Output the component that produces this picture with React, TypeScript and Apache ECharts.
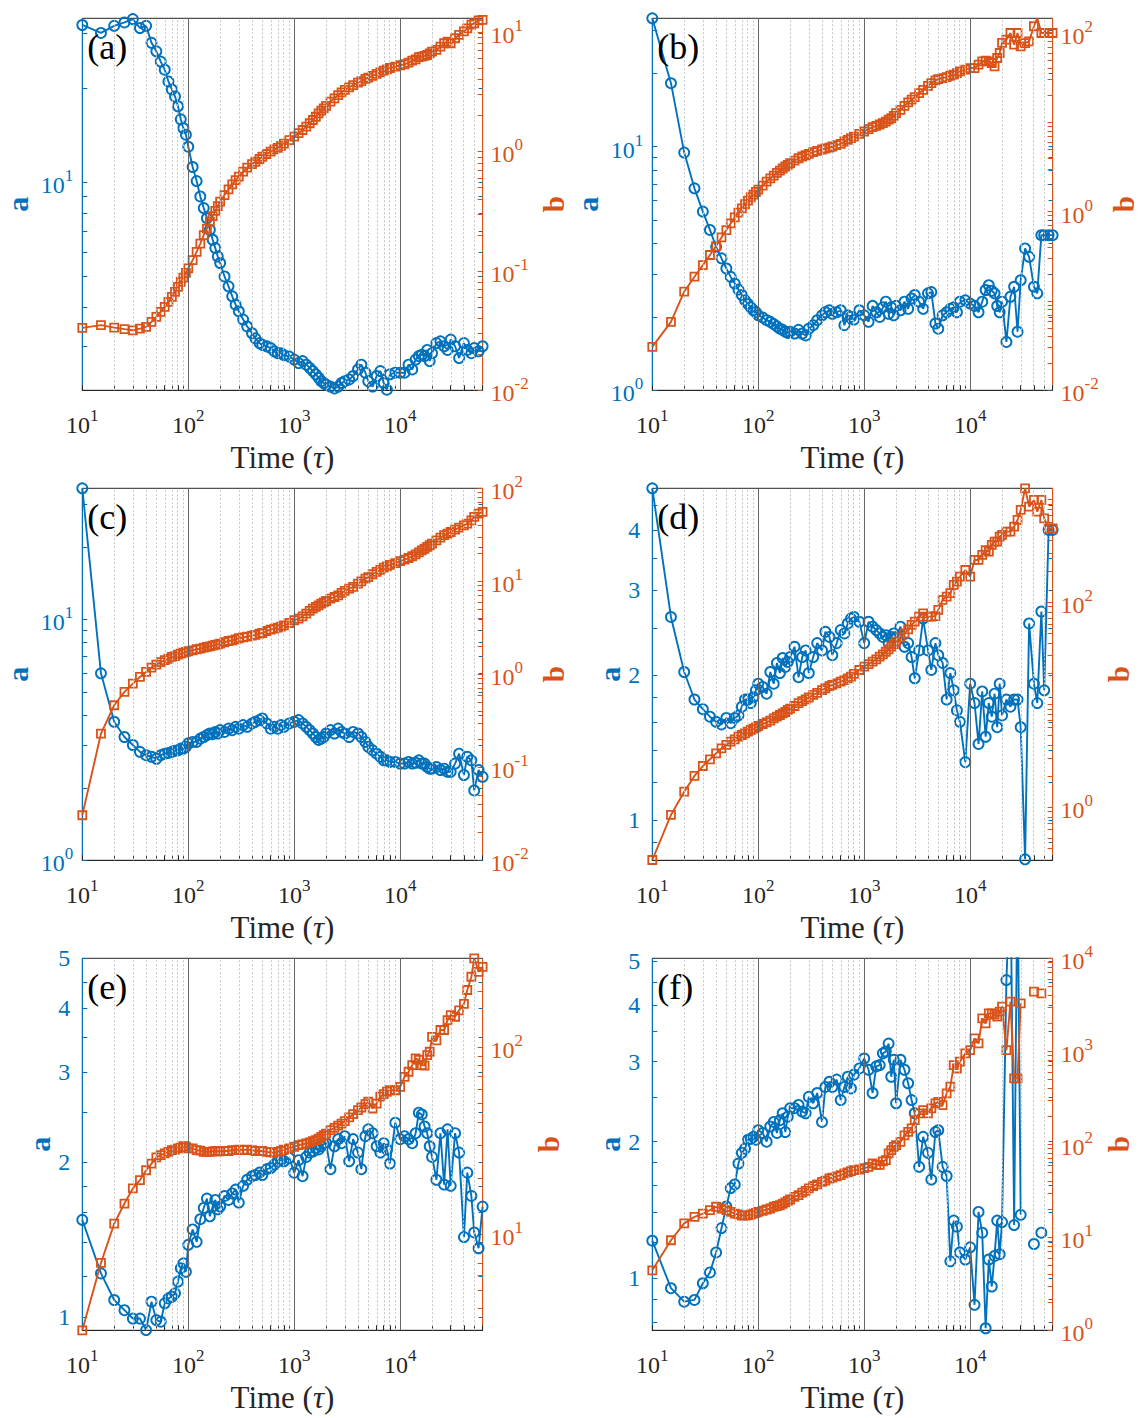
import React, { useEffect, useRef } from 'react';
import * as echarts from 'echarts';

// Time samples (tau), shared by all panels
const T = [
  10, 15, 20, 25, 30, 35, 40, 45, 50, 55, 60, 65, 70, 75, 80, 85, 90, 95, 100,
  110, 120, 130, 140, 150, 160, 170, 180, 190, 200, 220, 240, 260, 280, 300, 330, 360, 400, 430, 470, 500, 550, 600, 650, 700, 750, 800, 900, 1000,
  1100, 1200, 1300, 1400, 1500, 1600, 1700, 1800, 1900, 2000, 2200, 2400, 2600, 2800, 3000, 3300, 3600, 4000, 4300, 4700, 5000, 5500, 6000, 6500, 7000, 7500, 8000, 9000, 10000,
  11000, 12000, 13000, 14000, 15000, 16000, 17000, 18000, 19000, 20000, 22000, 24000, 26000, 28000, 30000, 33000, 36000, 40000, 43000, 47000, 50000, 55000, 60000,
];

// Panel (a)
const A_A = [
  31.8, 30.0, 31.6, 32.4, 33.2, 31.1, 31.6, 27.9, 26.2, 24.3, 22.9, 21.0, 19.8, 18.8, 17.5, 15.9, 14.9, 14.2, 13.0,
  11.2, 10.1, 9.02, 8.28, 7.69, 7.06, 6.56, 6.17, 5.80, 5.53, 5.01, 4.66, 4.33, 4.07, 3.88, 3.65, 3.47, 3.30, 3.18, 3.07, 3.03, 3.00, 2.96, 2.89, 2.85, 2.85, 2.81, 2.78, 2.72,
  2.65, 2.69, 2.62, 2.56, 2.50, 2.44, 2.38, 2.32, 2.29, 2.26, 2.23, 2.20, 2.23, 2.29, 2.32, 2.35, 2.41, 2.53, 2.62, 2.47, 2.32, 2.23, 2.41, 2.50, 2.29, 2.18, 2.44, 2.47, 2.47,
  2.47, 2.62, 2.53, 2.72, 2.79, 2.82, 2.79, 2.92, 2.69, 2.85, 3.07, 3.11, 3.00, 2.92, 3.15, 3.00, 2.75, 3.07, 2.92, 2.85, 2.96, 2.89, 3.00,
];
const B_A = [
  0.0333, 0.0351, 0.0335, 0.0325, 0.0318, 0.0328, 0.0340, 0.0374, 0.0412, 0.0453, 0.0499, 0.0550, 0.0605, 0.0667, 0.0734, 0.0809, 0.0879, 0.0962, 0.105,
  0.123, 0.144, 0.169, 0.199, 0.226, 0.258, 0.287, 0.318, 0.348, 0.379, 0.431, 0.481, 0.529, 0.575, 0.614, 0.676, 0.730, 0.783, 0.819, 0.863, 0.902, 0.951, 0.994, 1.04, 1.07, 1.11, 1.16, 1.24, 1.33,
  1.42, 1.51, 1.61, 1.72, 1.83, 1.95, 2.08, 2.19, 2.29, 2.40, 2.61, 2.78, 2.96, 3.12, 3.27, 3.44, 3.59, 3.76, 3.88, 4.04, 4.14, 4.28, 4.45, 4.59, 4.74, 4.86, 4.99, 5.12, 5.26,
  5.36, 5.53, 5.75, 5.90, 6.14, 6.22, 6.30, 6.41, 6.62, 6.84, 7.06, 7.53, 8.04, 8.30, 8.04, 8.85, 9.44, 10.1, 10.7, 11.5, 11.8, 12.5, 12.6,
];

// Panel (b)
const A_B = [
  33.6, 18.2, 9.45, 6.74, 5.41, 4.55, 3.88, 3.48, 3.16, 2.92, 2.74, 2.59, 2.46, 2.34, 2.26, 2.19, 2.13, 2.09, 2.03,
  1.99, 1.94, 1.91, 1.87, 1.83, 1.79, 1.77, 1.74, 1.72, 1.74, 1.71, 1.77, 1.71, 1.68, 1.79, 1.85, 1.94, 2.03, 2.09, 2.13, 2.06, 2.09, 2.13, 1.85, 2.03, 2.00, 1.95, 2.13, 2.03,
  1.91, 2.22, 2.09, 2.00, 2.19, 2.31, 2.06, 2.19, 2.03, 2.22, 2.13, 2.31, 2.16, 2.38, 2.46, 2.31, 2.16, 2.50, 2.53, 1.88, 1.79, 2.03, 2.09, 2.16, 2.19, 2.09, 2.31, 2.34, 2.27,
  2.22, 2.09, 2.31, 2.58, 2.70, 2.56, 2.50, 2.22, 2.09, 2.31, 1.58, 2.42, 2.66, 1.74, 2.83, 3.82, 3.53, 2.66, 2.50, 4.33, 4.33, 4.33, 4.33,
];
const B_B = [
  0.0306, 0.0583, 0.127, 0.187, 0.252, 0.327, 0.412, 0.515, 0.622, 0.740, 0.863, 0.975, 1.09, 1.21, 1.33, 1.45, 1.55, 1.66, 1.76,
  1.96, 2.17, 2.36, 2.53, 2.72, 2.88, 3.04, 3.20, 3.34, 3.48, 3.73, 3.96, 4.14, 4.28, 4.43, 4.63, 4.79, 4.96, 5.09, 5.22, 5.36, 5.55, 5.74, 6.10, 6.36, 6.64, 6.93, 7.43, 7.89,
  8.38, 8.82, 9.13, 9.45, 9.79, 10.2, 10.7, 11.1, 11.8, 12.7, 13.8, 15.3, 16.7, 17.9, 19.1, 21.2, 23.1, 25.6, 27.5, 29.4, 30.5, 31.3, 32.1, 33.2, 34.1, 35.6, 37.2, 38.8, 40.5,
  40.5, 44.2, 48.1, 48.9, 48.1, 46.1, 42.3, 52.5, 59.7, 77.3, 84.2, 100, 74.0, 100, 70.8, 77.0, 80.7, 119, 147, 100, 100, 100, 100,
];

// Panel (c)
const A_C = [
  35.0, 5.97, 3.76, 3.25, 3.01, 2.82, 2.73, 2.69, 2.64, 2.73, 2.77, 2.79, 2.82, 2.85, 2.86, 2.91, 2.91, 2.96, 3.06,
  3.10, 3.10, 3.20, 3.25, 3.31, 3.36, 3.34, 3.41, 3.36, 3.47, 3.41, 3.52, 3.47, 3.58, 3.52, 3.64, 3.58, 3.70, 3.76, 3.82, 3.88, 3.70, 3.52, 3.58, 3.52, 3.64, 3.58, 3.70, 3.76,
  3.82, 3.70, 3.58, 3.47, 3.36, 3.25, 3.16, 3.20, 3.25, 3.36, 3.47, 3.36, 3.52, 3.41, 3.36, 3.25, 3.41, 3.36, 3.25, 3.10, 2.96, 2.86, 2.77, 2.69, 2.60, 2.60, 2.56, 2.56, 2.52,
  2.52, 2.56, 2.52, 2.54, 2.60, 2.52, 2.52, 2.44, 2.40, 2.40, 2.44, 2.37, 2.40, 2.33, 2.33, 2.52, 2.77, 2.26, 2.69, 2.60, 1.95, 2.37, 2.22,
];
const B_C = [
  0.0305, 0.230, 0.465, 0.646, 0.794, 0.936, 1.06, 1.18, 1.27, 1.35, 1.42, 1.47, 1.54, 1.57, 1.63, 1.67, 1.71, 1.74, 1.77,
  1.81, 1.86, 1.89, 1.94, 1.97, 2.00, 2.03, 2.07, 2.10, 2.14, 2.21, 2.28, 2.32, 2.38, 2.44, 2.49, 2.54, 2.61, 2.65, 2.74, 2.78, 2.92, 3.02, 3.10, 3.18, 3.26, 3.36, 3.56, 3.81,
  3.97, 4.20, 4.49, 4.80, 5.08, 5.30, 5.52, 5.75, 5.94, 6.14, 6.51, 6.78, 7.07, 7.49, 7.87, 8.34, 8.69, 9.44, 10.0, 10.7, 11.1, 11.9, 12.6, 13.3, 14.0, 14.5, 15.0, 15.7, 16.5,
  17.1, 17.8, 18.6, 19.5, 20.5, 21.5, 22.4, 23.4, 24.4, 25.4, 27.6, 29.5, 31.3, 32.6, 33.9, 35.9, 37.8, 40.0, 41.7, 45.3, 49.2, 53.4, 55.7,
];

// Panel (d)
const A_D = [
  4.88, 2.64, 2.03, 1.78, 1.70, 1.64, 1.60, 1.58, 1.63, 1.59, 1.63, 1.65, 1.72, 1.78, 1.78, 1.75, 1.80, 1.86, 1.92,
  1.89, 1.83, 2.03, 1.92, 2.12, 2.02, 2.17, 2.08, 2.13, 2.18, 2.29, 1.98, 2.18, 2.25, 2.02, 2.18, 2.33, 2.25, 2.46, 2.40, 2.20, 2.33, 2.48, 2.44, 2.56, 2.62, 2.64, 2.58, 2.33,
  2.58, 2.52, 2.48, 2.44, 2.40, 2.42, 2.33, 2.40, 2.44, 2.40, 2.52, 2.29, 2.33, 2.18, 1.97, 2.25, 2.62, 2.25, 2.05, 2.33, 2.20, 2.12, 1.78, 2.02, 1.86, 1.69, 1.60, 1.32, 1.92,
  1.75, 1.44, 1.85, 1.49, 1.75, 1.64, 1.83, 1.56, 1.92, 1.65, 1.78, 1.72, 1.78, 1.78, 1.56, 0.83, 2.56, 1.92, 1.75, 2.71, 1.86, 4.00, 4.00,
];
const B_D = [
  0.304, 0.836, 1.41, 2.01, 2.51, 2.92, 3.34, 3.73, 4.03, 4.34, 4.57, 4.86, 5.04, 5.23, 5.43, 5.64, 5.81, 5.99, 6.17,
  6.45, 6.70, 6.96, 7.33, 7.61, 7.90, 8.20, 8.45, 8.84, 9.11, 9.67, 10.3, 10.8, 11.2, 11.7, 12.4, 13.0, 13.8, 14.4, 15.1, 15.5, 16.1, 16.7, 17.3, 18.0, 18.7, 19.9, 21.7, 23.4,
  24.8, 26.2, 27.6, 29.3, 30.8, 32.7, 34.5, 36.6, 38.9, 41.0, 45.2, 49.4, 54.1, 59.7, 64.3, 71.9, 77.5, 71.9, 71.9, 72.9, 83.6, 105, 113, 122, 147, 158, 177, 205, 177,
  257, 257, 288, 321, 310, 360, 388, 388, 434, 451, 486, 486, 543, 631, 790, 1285, 851, 989, 760, 989, 655, 523, 523,
];

// Panel (e)
const A_E = [
  1.545, 1.215, 1.078, 1.030, 0.992, 0.992, 0.942, 1.070, 0.985, 0.978, 1.062, 1.086, 1.094, 1.111, 1.171, 1.243, 1.271, 1.224, 1.381,
  1.48, 1.40, 1.55, 1.63, 1.70, 1.57, 1.64, 1.69, 1.62, 1.64, 1.72, 1.69, 1.74, 1.77, 1.67, 1.80, 1.85, 1.88, 1.89, 1.91, 1.89, 1.94, 1.95, 1.98, 2.01, 2.02, 2.01, 2.04, 1.91,
  2.02, 1.88, 2.05, 2.09, 2.10, 2.13, 2.12, 2.15, 2.17, 2.18, 1.94, 2.15, 2.22, 2.18, 2.25, 2.01, 2.22, 2.09, 1.94, 2.25, 2.32, 2.28, 2.15, 2.09, 2.18, 2.12, 1.99, 2.39, 2.22,
  2.25, 2.22, 2.18, 2.28, 2.50, 2.48, 2.35, 2.28, 2.15, 2.05, 1.85, 2.28, 1.81, 2.32, 1.80, 2.28, 2.09, 1.43, 1.91, 1.72, 1.46, 1.36, 1.64,
];
const B_E = [
  3.06, 7.02, 11.4, 14.6, 17.6, 19.5, 22.0, 23.9, 25.8, 26.5, 27.1, 27.6, 28.2, 28.4, 28.8, 29.1, 29.6, 29.4, 28.8,
  28.8, 28.2, 28.0, 27.6, 27.6, 27.6, 27.8, 27.9, 27.8, 27.8, 27.9, 27.9, 28.2, 28.2, 28.4, 28.2, 28.4, 28.2, 27.9, 27.9, 27.9, 27.6, 27.4, 27.3, 27.6, 27.9, 28.4, 28.8, 29.4,
  30.0, 30.3, 30.6, 31.0, 31.5, 31.9, 32.5, 33.2, 33.9, 34.6, 36.1, 37.1, 38.1, 39.1, 40.3, 42.2, 43.9, 46.2, 47.7, 49.7, 51.2, 47.1, 50.0, 54.5, 56.3, 57.9, 59.0, 59.0, 61.5,
  69.6, 74.1, 80.4, 87.3, 85.8, 80.4, 80.0, 90.9, 94.8, 114, 109, 124, 124, 140, 149, 146, 158, 171, 203, 239, 300, 254, 270,
];

// Panel (f)
const A_F = [
  1.21, 0.951, 0.888, 0.896, 0.975, 1.03, 1.14, 1.29, 1.44, 1.58, 1.61, 1.79, 1.89, 1.93, 2.02, 2.03, 2.05, 2.02, 2.12,
  2.09, 2.00, 2.16, 2.21, 2.09, 2.23, 2.31, 2.10, 2.27, 2.37, 2.37, 2.41, 2.33, 2.31, 2.51, 2.43, 2.56, 2.21, 2.64, 2.71, 2.64, 2.74, 2.47, 2.64, 2.78, 2.62, 2.81, 2.90, 3.05,
  2.88, 2.56, 2.93, 2.95, 3.13, 3.16, 3.29, 2.78, 3.03, 2.43, 3.03, 2.88, 2.69, 2.47, 2.31, 1.76, 2.05, 1.89, 1.65, 2.10, 2.12, 1.76, 1.68, 1.09, 1.34, 1.30, 1.14, 1.10, 1.17,
  0.874, 1.40, 1.26, 0.776, 1.10, 0.959, 1.12, 1.34, 1.13, 1.33, 4.54, 8.0, 1.31, 8.0, 1.38, null, null, 1.19, null, 1.26, null, null, null,
];
const B_F = [
  4.42, 9.30, 14.1, 16.6, 18.0, 19.6, 21.3, 20.4, 19.6, 18.8, 18.0, 17.6, 17.1, 17.1, 17.2, 17.5, 18.0, 18.3, 18.8,
  19.3, 19.9, 20.4, 21.3, 21.7, 22.1, 22.9, 23.7, 24.6, 25.5, 27.2, 28.4, 30.3, 31.6, 33.5, 35.6, 37.0, 39.5, 40.7, 42.9, 43.9, 45.2, 46.6, 48.6, 49.8, 51.4, 52.8, 53.6, 55.4,
  57.3, 62.2, 60.2, 60.2, 65.4, 67.6, 79.7, 86.6, 94.0, 98.1, 106, 125, 136, 148, 182, 215, 233, 215, 243, 275, 286, 264, 352, 416, 711, 653, 773, 950, 1030,
  1377, 1217, 2261, 1995, 2560, 2560, 2475, 2355, 2667, 3019, 1030, 3420, 511, 511, 3282, null, null, 4378, null, 4200, null, null, null,
];

// Tick labels
const PANEL_TAGS = ['(a)', '(b)', '(c)', '(d)', '(e)', '(f)'];
const X_LABELS = [10, 100, 1000, 10000];
const LEFT_LABELS = [[10], [1, 10], [1, 10], [1, 2, 3, 4], [1, 2, 3, 4, 5], [1, 2, 3, 4, 5]];
const RIGHT_LABELS = [
  [0.01, 0.1, 1, 10],
  [0.01, 1, 100],
  [0.01, 0.1, 1, 10, 100],
  [1, 100],
  [10, 100],
  [1, 10, 100, 1000, 10000],
];
const LEFT_POW = [true, true, true, false, false, false];

// Axis ranges
const X_RANGE = [10, 60000];
const LEFT_RANGE = [[2.17, 33.4], [1, 33.6], [1, 35], [0.826, 4.88], [0.941, 5], [0.768, 5.07]];
const RIGHT_RANGE = [[0.01, 13.0], [0.01, 146], [0.01, 100], [0.302, 1285], [3.06, 300], [1, 10000]];

const A_SERIES = [A_A, A_B, A_C, A_D, A_E, A_F];
const B_SERIES = [B_A, B_B, B_C, B_D, B_E, B_F];

const BLUE = '#0072BD';
const ORANGE = '#D95319';
const INK = '#262626';
const FONT = '"Liberation Serif", "Times New Roman", Times, serif';

const lg = (v: number) => Math.log10(v);

function logTicks(min: number, max: number): number[] {
  const out: number[] = [];
  for (let e = Math.floor(lg(min)) - 1; e <= Math.ceil(lg(max)); e++) {
    for (let k = 1; k <= 9; k++) {
      const v = k * Math.pow(10, e);
      if (v >= min * 0.9999 && v <= max * 1.0001) out.push(lg(v));
    }
  }
  return out;
}

function linLogTicks(min: number, max: number): number[] {
  const cands = [0.7, 0.8, 0.9, 1, 1.2, 1.4, 1.6, 1.8, 2, 2.5, 3, 3.5, 4, 4.5, 5];
  return cands.filter((v) => v >= min * 0.9999 && v <= max * 1.0001).map(lg);
}

const powRich = (color: string) => ({
  b: { fontFamily: FONT, fontSize: 24, lineHeight: 30, color, verticalAlign: 'bottom' },
  s: { fontFamily: FONT, fontSize: 17, lineHeight: 14, color, verticalAlign: 'top' },
});
const powFmt = (v: number) => `{b|10}{s|${Math.round(v)}}`;

const COL_LEFT = [82.3, 652.3];
const ROW_TOP = [18.3, 488.3, 958.3];
const GW = 400.3;
const GH = 372;

function buildOption() {
  const grid: any[] = [];
  const xAxis: any[] = [];
  const yAxis: any[] = [];
  const series: any[] = [];
  const graphic: any[] = [];

  const xMin = lg(X_RANGE[0]);
  const xMax = lg(X_RANGE[1]);
  const xTicks = logTicks(X_RANGE[0], X_RANGE[1]);
  const gridVals: { v: number; major: boolean }[] = [];
  for (let e = 1; e <= 4; e++) {
    for (let k = 1; k <= 9; k++) {
      const t = k * Math.pow(10, e);
      if (t > X_RANGE[0] && t < X_RANGE[1]) gridVals.push({ v: lg(t), major: k === 1 });
    }
  }

  for (let i = 0; i < 6; i++) {
    const left = COL_LEFT[i % 2];
    const top = ROW_TOP[Math.floor(i / 2)];
    const [aMin, aMax] = LEFT_RANGE[i];
    const [bMin, bMax] = RIGHT_RANGE[i];
    const pow = LEFT_POW[i];

    grid.push({
      left, top, width: GW, height: GH,
      show: true, borderColor: INK, borderWidth: 1, backgroundColor: 'rgba(0,0,0,0)',
      containLabel: false, outerBoundsMode: 'none',
    });

    xAxis.push({
      type: 'value', gridIndex: i, position: 'bottom', min: xMin, max: xMax,
      axisLine: { show: true, onZero: false, lineStyle: { color: INK, width: 1 } },
      axisTick: { show: true, inside: true, length: 5, customValues: xTicks, lineStyle: { color: INK, width: 1 } },
      axisLabel: {
        show: true, customValues: X_LABELS.map(lg), formatter: powFmt, rich: powRich(INK),
        margin: 17, color: INK, fontFamily: FONT, fontSize: 24,
      },
      splitLine: { show: false },
      name: 'Time ({i|τ})', nameLocation: 'middle', nameGap: 52,
      nameTextStyle: {
        fontFamily: FONT, fontSize: 31, color: INK,
        rich: { i: { fontFamily: FONT, fontSize: 31, fontStyle: 'italic', color: INK } },
      },
    });

    const leftTicks = pow ? logTicks(aMin, aMax) : linLogTicks(aMin, aMax);
    yAxis.push({
      type: 'value', gridIndex: i, position: 'left', min: lg(aMin), max: lg(aMax),
      axisLine: { show: true, onZero: false, lineStyle: { color: BLUE, width: 1 } },
      axisTick: { show: true, inside: true, length: 5, customValues: leftTicks, lineStyle: { color: BLUE, width: 1 } },
      axisLabel: pow
        ? { show: true, customValues: LEFT_LABELS[i].map(lg), formatter: powFmt, rich: powRich(BLUE), margin: 9, color: BLUE, fontFamily: FONT, fontSize: 24 }
        : { show: true, customValues: LEFT_LABELS[i].map(lg), formatter: (v: number) => String(Math.round(Math.pow(10, v))), margin: 12, color: BLUE, fontFamily: FONT, fontSize: 24 },
      splitLine: { show: false },
      name: 'a', nameLocation: 'middle', nameRotate: 90, nameGap: pow ? 50 : 27,
      nameTextStyle: { fontFamily: FONT, fontSize: 30, fontWeight: 'bold', color: BLUE, lineHeight: 30 },
    });
    yAxis.push({
      type: 'value', gridIndex: i, position: 'right', offset: 0, min: lg(bMin), max: lg(bMax),
      axisLine: { show: true, onZero: false, lineStyle: { color: ORANGE, width: 1 } },
      axisTick: { show: true, inside: true, length: 5, customValues: logTicks(bMin, bMax), lineStyle: { color: ORANGE, width: 1 } },
      axisLabel: { show: true, customValues: RIGHT_LABELS[i].map(lg), formatter: powFmt, rich: powRich(ORANGE), margin: 8, color: ORANGE, fontFamily: FONT, fontSize: 24 },
      splitLine: { show: false },
      name: 'b', nameLocation: 'middle', nameRotate: 90, nameGap: i < 3 ? 57 : 52,
      nameTextStyle: { fontFamily: FONT, fontSize: 29, fontWeight: 'bold', color: ORANGE, lineHeight: 29 },
    });
    // mirrored left-axis ticks on the right edge
    yAxis.push({
      type: 'value', gridIndex: i, position: 'right', offset: 0, min: lg(aMin), max: lg(aMax),
      axisLine: { show: false, onZero: false },
      axisTick: { show: true, inside: true, length: 4, customValues: leftTicks, lineStyle: { color: BLUE, width: 1 } },
      axisLabel: { show: false },
      splitLine: { show: false },
    });

    const yL = 3 * i;
    const yR = 3 * i + 1;

    // vertical grid lines
    series.push({
      type: 'line', xAxisIndex: i, yAxisIndex: yL, z: 1, silent: true,
      data: [[xMin, lg(aMin)], [xMax, lg(aMin)]],
      symbol: 'none', lineStyle: { opacity: 0 },
      markLine: {
        silent: true, symbol: ['none', 'none'], label: { show: false }, animation: false,
        data: gridVals.map((g) => ({
          xAxis: g.v,
          lineStyle: g.major
            ? { color: '#666666', width: 1, type: 'solid' }
            : { color: '#c4c4c4', width: 1, type: [2, 2] },
        })),
      },
    });

    const aVals = A_SERIES[i];
    const bVals = B_SERIES[i];
    series.push({
      type: 'line', xAxisIndex: i, yAxisIndex: yL, z: 2,
      data: T.map((t, k) => [lg(t), aVals[k] == null ? '-' : lg(aVals[k] as number)]),
      symbol: 'circle', symbolSize: 10, showSymbol: true, showAllSymbol: true,
      connectNulls: false, clip: true,
      lineStyle: { color: BLUE, width: 1.9 },
      itemStyle: { color: 'rgba(0,0,0,0)', borderColor: BLUE, borderWidth: 1.9 },
      emphasis: { disabled: true },
    });
    series.push({
      type: 'line', xAxisIndex: i, yAxisIndex: yR, z: 3,
      data: T.map((t, k) => [lg(t), bVals[k] == null ? '-' : lg(bVals[k] as number)]),
      symbol: 'rect', symbolSize: 8, showSymbol: true, showAllSymbol: true,
      connectNulls: false, clip: true,
      lineStyle: { color: ORANGE, width: 1.9 },
      itemStyle: { color: 'rgba(0,0,0,0)', borderColor: ORANGE, borderWidth: 1.8 },
      emphasis: { disabled: true },
    });

    graphic.push({
      type: 'text', left: left + 5, top: top + 11, z: 100, silent: true,
      style: { text: PANEL_TAGS[i], font: `36px ${FONT}`, fill: '#000' },
    });
  }

  return {
    animation: false,
    backgroundColor: '#ffffff',
    grid, xAxis, yAxis, series, graphic,
  };
}

export default function App() {
  const ref = useRef<HTMLDivElement>(null);
  useEffect(() => {
    if (!ref.current) return;
    const chart = echarts.init(ref.current, undefined, { renderer: 'svg' });
    chart.setOption(buildOption() as any);
    return () => chart.dispose();
  }, []);
  return (
    <div
      ref={ref}
      style={{ position: 'absolute', left: 0, top: 0, width: 1139, height: 1418, background: '#fff' }}
    />
  );
}
